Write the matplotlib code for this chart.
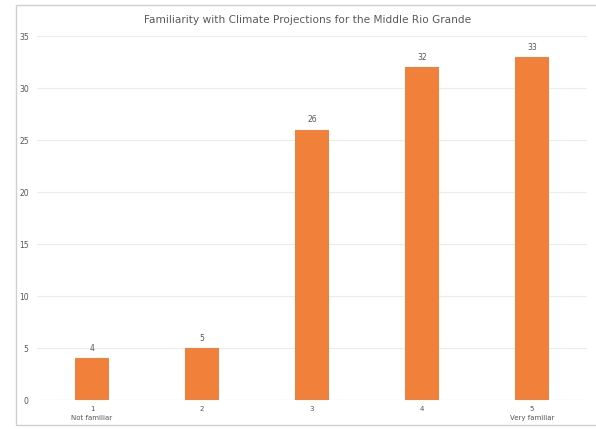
import matplotlib
matplotlib.use("Agg")
import matplotlib.pyplot as plt
from matplotlib.patches import Rectangle

categories = ["1\nNot familiar", "2", "3", "4", "5\nVery familiar"]
values = [4, 5, 26, 32, 33]
yticks = [0, 5, 10, 15, 20, 25, 30, 35]
title = "Familiarity with Climate Projections for the Middle Rio Grande"

W, H = 596, 429
fig = plt.figure(figsize=(W / 100, H / 100), dpi=100)
fig.patch.set_facecolor("white")

# outer chart frame
fig.add_artist(Rectangle((16 / W, 1 - 425 / H), (W + 5 - 16) / W, (425 - 5) / H,
                         transform=fig.transFigure, fill=False,
                         edgecolor="#d0d0d0", linewidth=1.0))

ax = fig.add_axes([37 / W, 29 / H, 550 / W, 364 / H])
x = list(range(len(values)))
bars = ax.bar(x, values, width=0.31, color="#F0803A", zorder=3)
for xi, v in zip(x, values):
    ax.text(xi, v + 0.5, str(v), ha="center", va="bottom", fontsize=5.5, color="#555555")

ax.set_xlim(-0.5, 4.5)
ax.set_ylim(0, 35)
ax.set_yticks(yticks)
ax.set_yticklabels([str(t) for t in yticks], fontsize=5.5, color="#555555")
ax.set_xticks(x)
ax.set_xticklabels(categories, fontsize=5, color="#555555", linespacing=1.7)
ax.tick_params(axis="y", length=0, pad=6)
ax.tick_params(axis="x", length=0, pad=4)
ax.yaxis.grid(True, color="#ececec", linewidth=0.8, zorder=0)
for s in ax.spines.values():
    s.set_visible(False)
ax.axhline(0, color="#e0e0e0", linewidth=0.8, zorder=2)

fig.text(308 / W, 1 - 20 / H, title, ha="center", va="center", fontsize=7.6, color="#5a5a5a")

fig.savefig("out.png", dpi=100)
